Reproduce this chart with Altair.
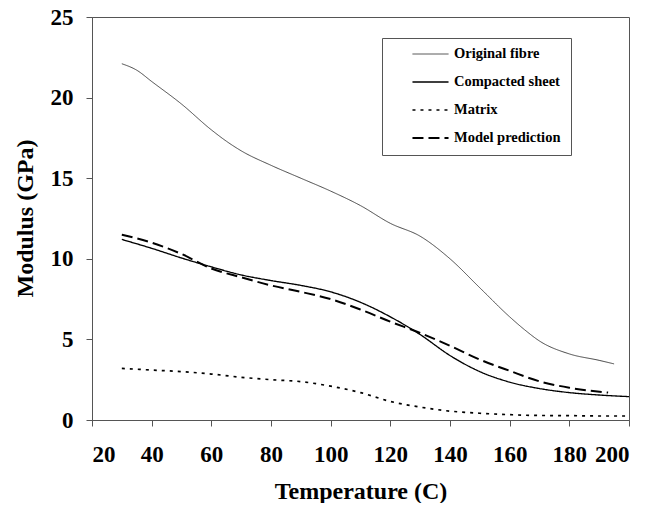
import altair as alt
import pandas as pd

series_order = ["Original fibre", "Compacted sheet", "Matrix", "Model prediction"]

fibre_T = [30, 35, 40, 50, 60, 65, 70, 80, 90, 100, 110, 120, 130, 140, 150, 160, 165, 170, 180, 190, 195]
fibre_M = [22.1, 21.7, 21.0, 19.6, 18.0, 17.3, 16.7, 15.8, 15.0, 14.2, 13.3, 12.2, 11.4, 10.0, 8.2, 6.4, 5.6, 4.9, 4.1, 3.7, 3.48]

sheet_T = [30, 40, 50, 60, 70, 80, 90, 100, 110, 120, 130, 140, 150, 160, 170, 180, 190, 200]
sheet_M = [11.2, 10.65, 10.05, 9.5, 9.0, 8.65, 8.35, 7.95, 7.3, 6.4, 5.3, 4.0, 3.0, 2.35, 1.95, 1.7, 1.55, 1.45]

matrix_T = [30, 40, 50, 60, 70, 80, 90, 100, 110, 120, 130, 140, 150, 160, 170, 180, 190, 200]
matrix_M = [3.2, 3.1, 3.0, 2.85, 2.65, 2.5, 2.38, 2.1, 1.7, 1.15, 0.8, 0.55, 0.42, 0.33, 0.28, 0.27, 0.25, 0.25]

model_T = [30, 40, 50, 60, 70, 80, 90, 100, 110, 120, 130, 140, 150, 160, 170, 180, 193]
model_M = [11.5, 11.0, 10.3, 9.4, 8.85, 8.35, 7.95, 7.5, 6.85, 6.1, 5.4, 4.6, 3.75, 3.05, 2.4, 2.0, 1.7]

x_ticks = [20, 40, 60, 80, 100, 120, 140, 160, 180, 200]
y_ticks = [0, 5, 10, 15, 20, 25]

rows = []
for name, ts, ms in [
    ("Original fibre", fibre_T, fibre_M),
    ("Compacted sheet", sheet_T, sheet_M),
    ("Matrix", matrix_T, matrix_M),
    ("Model prediction", model_T, model_M),
]:
    for t, m in zip(ts, ms):
        rows.append({"series": name, "T": t, "M": m})
df = pd.DataFrame(rows)

FONT = "Liberation Serif"

legend = alt.Legend(
    orient="none",
    legendX=290,
    legendY=21,
    title=None,
    strokeColor="#555",
    fillColor="white",
    padding=10,
    symbolType="stroke",
    symbolSize=1300,
    symbolOffset=19,
    labelOffset=4,
    labelFont=FONT,
    labelFontWeight="bold",
    labelFontSize=14.5,
    labelColor="black",
    labelLimit=400,
    clipHeight=12,
    rowPadding=13,
)

chart = (
    alt.Chart(df)
    .mark_line(interpolate="monotone")
    .encode(
        x=alt.X(
            "T:Q",
            scale=alt.Scale(domain=[20, 200], nice=False, zero=False),
            axis=alt.Axis(values=x_ticks, title="Temperature (C)", labelPadding=17,
                          titleY=78, titleBaseline="alphabetic"),
        ),
        y=alt.Y(
            "M:Q",
            scale=alt.Scale(domain=[0, 25], nice=False),
            axis=alt.Axis(values=y_ticks, title="Modulus (GPa)", labelPadding=13,
                          titleX=-67, titleY=201, titleAngle=270,
                          titleBaseline="middle", titleAlign="center"),
        ),
        color=alt.Color(
            "series:N",
            scale=alt.Scale(domain=series_order, range=["#444444", "#000000", "#000000", "#000000"]),
            legend=legend,
        ),
        strokeDash=alt.StrokeDash(
            "series:N",
            scale=alt.Scale(domain=series_order, range=[[1, 0], [1, 0], [3, 5], [11, 5]]),
            legend=legend,
        ),
        strokeWidth=alt.StrokeWidth(
            "series:N",
            scale=alt.Scale(domain=series_order, range=[1, 2, 2, 2]),
            legend=legend,
        ),
    )
    .properties(
        width=537,
        height=403,
        autosize=alt.AutoSizeParams(type="none"),
        padding={"left": 84, "top": 9, "right": 18, "bottom": 83},
    )
    .configure_view(stroke="#555", strokeWidth=1)
    .configure_axis(
        grid=False,
        labelFont=FONT,
        labelFontSize=23,
        labelFontWeight="bold",
        labelColor="black",
        titleFont=FONT,
        titleFontSize=24,
        titleFontWeight="bold",
        titleColor="black",
        domainColor="#555",
        tickColor="#555",
        tickSize=6,
    )
)

chart.save("out.html", embed_options={"renderer": "svg", "actions": False})
